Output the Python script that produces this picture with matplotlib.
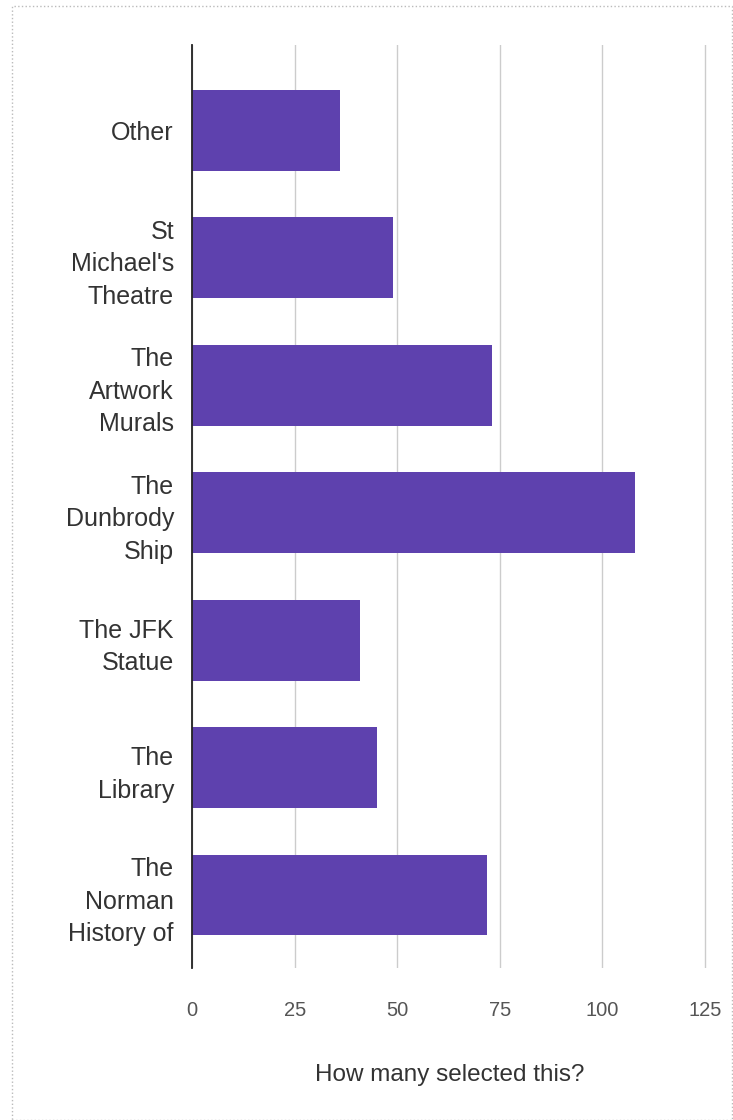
import numpy as np
import matplotlib
matplotlib.use('Agg')
import matplotlib.pyplot as plt
from matplotlib.patches import Rectangle

plt.rcParams['font.family'] = ['Liberation Sans', 'DejaVu Sans']

# answers and counts, top to bottom
places = ['Other', "St\nMichael's\nTheatre", 'The\nArtwork\nMurals', 'The\nDunbrody\nShip',
          'The JFK\nStatue', 'The\nLibrary', 'The\nNorman\nHistory of']
counts = [36, 49, 73, 108, 41, 45, 72]
xticks = [0, 25, 50, 75, 100, 125]

bar_col = '#5e41ae'

fig = plt.figure(figsize=(7.33, 11.2), dpi=100)
ax = fig.add_axes([0.262, 0.136, 0.702, 0.824])

y = np.arange(len(places))
ax.barh(y, counts, height=0.635, color=bar_col, zorder=3)

ax.set_xlim(0, 125.4)
ax.set_ylim(6.57, -0.67)
ax.set_xticks(xticks)
ax.set_yticks(y)
ax.set_yticklabels(places, fontsize=18, color='#333333', linespacing=1.45)
ax.tick_params(axis='x', length=0, labelsize=14.5, labelcolor='#555555', pad=24)
ax.tick_params(axis='y', length=0, pad=13)
ax.grid(axis='x', color='#cccccc', linewidth=1, zorder=0)
for s in ['top', 'right', 'bottom']:
    ax.spines[s].set_visible(False)
ax.spines['left'].set_color('#222222')
ax.spines['left'].set_linewidth(1.3)
ax.spines['left'].set_zorder(4)

ax.set_xlabel('How many selected this?', fontsize=17.5, color='#333333', labelpad=32)

# dotted frame around the whole chart
fig.patches.append(Rectangle((0.016, 0.0), 0.983, 0.995, transform=fig.transFigure,
                             fill=False, edgecolor='#bbbbbb', linestyle=':', linewidth=1))

fig.savefig('out.png', dpi=100)
